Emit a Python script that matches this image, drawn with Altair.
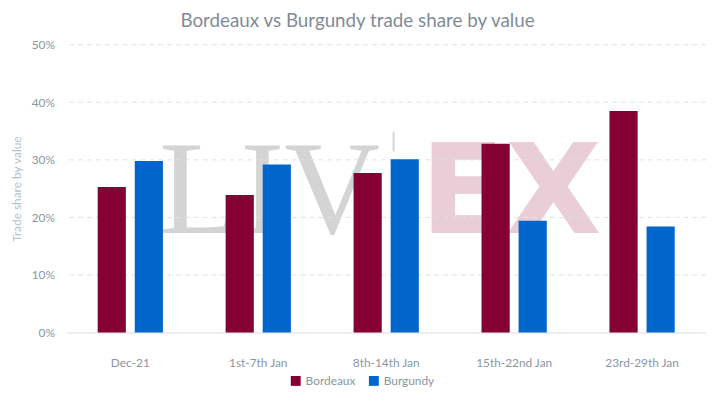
import altair as alt
import pandas as pd

periods = ["Dec-21", "1st-7th Jan", "8th-14th Jan", "15th-22nd Jan", "23rd-29th Jan"]
bordeaux = [25.3, 23.9, 27.7, 32.8, 38.5]
burgundy = [29.8, 29.2, 30.1, 19.4, 18.4]
series = ["Bordeaux", "Burgundy"]
colors = ["#850033", "#0066cc"]
y_ticks = [0, 10, 20, 30, 40, 50]

rows = []
for p, a, b in zip(periods, bordeaux, burgundy):
    rows.append({"period": p, "region": "Bordeaux", "share": a})
    rows.append({"period": p, "region": "Burgundy", "share": b})
df = pd.DataFrame(rows)
grid_df = pd.DataFrame({"tick": y_ticks[1:]})

W, H = 647, 291
yscale = alt.Scale(domain=[0, 50], nice=False)
label_color = "#8a96a3"
font = "Lato"

y_axis = alt.Axis(
    values=y_ticks, grid=False, domain=False, ticks=False,
    labelExpr="datum.value + '%'", labelPadding=12,
    labelColor=label_color, labelFont=font, labelFontSize=12,
    title="Trade share by value", titleColor="#b7bfc8", titleFont=font,
    titleFontSize=12, titleFontWeight="normal", titlePadding=8,
)

one = alt.Data(values=[{}])
wm_liv = alt.Chart(one).mark_text(
    text="LIV", font="Liberation Serif", fontSize=134, color="#d4d4d4",
    align="left", baseline="alphabetic"
).encode(x=alt.value(94), y=alt.value(190))
wm_ex = alt.Chart(one).mark_text(
    text="EX", font="DejaVu Sans", fontWeight="bold", fontSize=126,
    color="#e9cdd7", align="left", baseline="alphabetic"
).encode(x=alt.value(358), y=alt.value(190))
wm_bar = alt.Chart(one).mark_rule(color="#d4d4d4", strokeWidth=2).encode(
    x=alt.value(331), y=alt.value(88), y2=alt.value(108)
)

grid = alt.Chart(grid_df).mark_rule(
    color="#e2e2e2", strokeDash=[5, 4], strokeWidth=1
).encode(y=alt.Y("tick:Q", scale=yscale, axis=y_axis))

bars = alt.Chart(df).mark_bar().encode(
    x=alt.X(
        "period:N", sort=periods,
        scale=alt.Scale(paddingInner=0.49, paddingOuter=0.245),
        axis=alt.Axis(
            title=None, labelAngle=0, ticks=False, labelPadding=25,
            domainColor="#dadada", labelColor=label_color, labelFont=font,
            labelFontSize=12,
        ),
    ),
    xOffset=alt.XOffset("region:N", sort=series, scale=alt.Scale(paddingInner=0.24)),
    y=alt.Y("share:Q", scale=yscale, axis=y_axis),
    color=alt.Color(
        "region:N", sort=series,
        scale=alt.Scale(domain=series, range=colors),
        legend=alt.Legend(
            title=None, orient="none", legendX=226, legendY=334,
            direction="horizontal", symbolType="square", symbolSize=100,
            symbolStrokeWidth=0, labelFont=font, labelFontSize=12,
            labelColor=label_color, columnPadding=12,
        ),
    ),
)

chart = alt.layer(wm_liv, wm_ex, wm_bar, grid, bars).properties(
    width=W, height=H,
    background="white",
    autosize=alt.AutoSizeParams(type="none"),
    padding={"left": 59, "top": 35, "right": 6, "bottom": 56},
    title=alt.Title(
        "Bordeaux vs Burgundy trade share by value", font=font, fontSize=19,
        fontWeight="normal", color="#7f8b98", dx=-29, offset=8,
    ),
).configure_view(stroke=None)

chart.save("out.html", embed_options={"renderer": "svg", "actions": False})
